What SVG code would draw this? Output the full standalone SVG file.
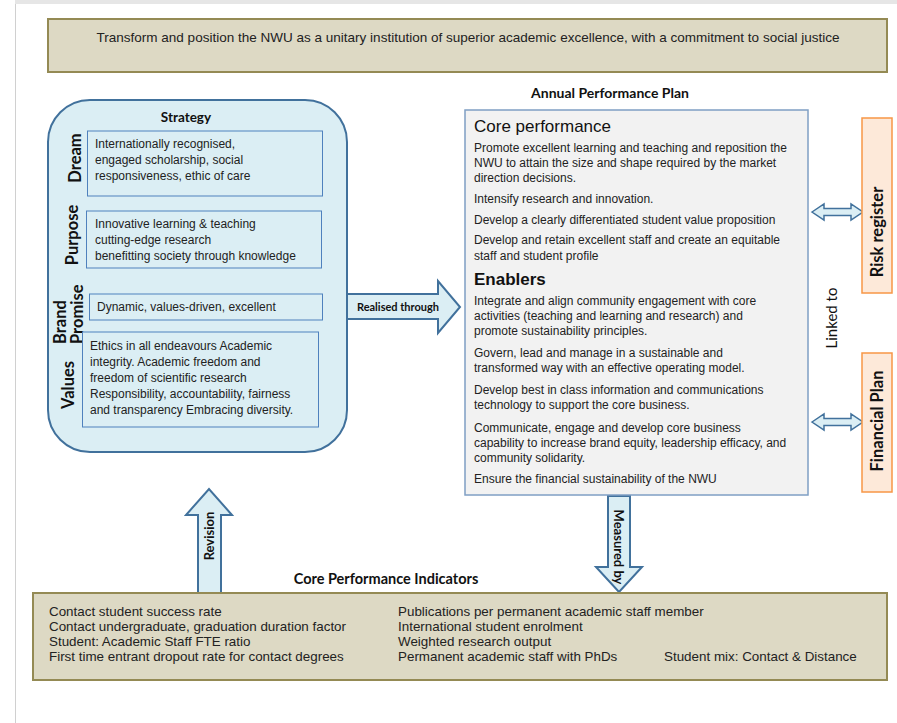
<svg xmlns="http://www.w3.org/2000/svg" width="897" height="723" viewBox="0 0 897 723">
<style>
.body{font-family:"Liberation Sans",Arial,sans-serif;font-size:12px;fill:#222}
.big{font-family:"Liberation Sans",Arial,sans-serif;font-size:17px;fill:#111}
.ind{font-family:"Liberation Sans",Arial,sans-serif;font-size:13.4px;fill:#222}
.hd{font-family:Lato,"Open Sans",sans-serif;font-weight:bold;fill:#111}
.lbl{font-family:Lato,"Open Sans",sans-serif;font-weight:bold;font-size:16.5px;fill:#111}
.tan{fill:#ddd9c4;stroke:#948a54;stroke-width:2}
.inner{fill:#dbeef4;stroke:#4f81bd;stroke-width:1}
.blk{fill:#dbeef4;stroke:#41719c;stroke-width:2;stroke-linejoin:miter}
.side{fill:#fde9d9;stroke:#f79646;stroke-width:1.5}
.dbl{fill:#dbeef4;stroke:#41719c;stroke-width:1.5}
</style>
<rect x="0" y="0" width="897" height="723" fill="#ffffff"/>
<rect x="15" y="0" width="882" height="4" fill="#e6e6e6"/>
<line x1="15.5" y1="4" x2="15.5" y2="723" stroke="#d0d0d0" stroke-width="1"/>

<g id="mission">
<rect class="tan" x="48" y="19" width="839" height="53" stroke-width="1.5"/>
<text class="body" x="468" y="42" style="font-size:13px" text-anchor="middle" textLength="743" lengthAdjust="spacingAndGlyphs">Transform and position the NWU as a unitary institution of superior academic excellence, with a commitment to social justice</text>
</g>

<g id="connectors">
<polygon class="blk" points="347,294 438,294 438,281 460,307 438,333 438,319 347,319"/>
<text class="hd" x="398" y="311" font-size="11" text-anchor="middle">Realised through</text>
<polygon class="blk" points="198,593 198,515 186,515 209,489 232,515 221,515 221,593"/>
<text class="hd" font-size="13" text-anchor="middle" transform="translate(214,536) rotate(-90)">Revision</text>
<polygon class="blk" points="608,496 630,496 630,567 642,567 619,592 596,567 608,567"/>
<text class="hd" font-size="13" text-anchor="middle" transform="translate(614,547) rotate(90)">Measured by</text>
<polygon class="dbl" points="812,212 824,204 824,208.5 851,208.5 851,204 863,212 851,220 851,215.5 824,215.5 824,220"/>
<polygon class="dbl" points="812,422 824,414 824,418.5 851,418.5 851,414 863,422 851,430 851,425.5 824,425.5 824,430"/>
<text x="0" y="0" font-family="Lato, 'Open Sans', sans-serif" font-size="15" fill="#111" text-anchor="middle" transform="translate(837,318) rotate(-90)">Linked to</text>
</g>

<g id="strategy">
<rect x="48" y="100" width="299" height="352" rx="42" ry="42" fill="#dbeef4" stroke="#41719c" stroke-width="2"/>
<text class="hd" x="186" y="122" font-size="13.5" text-anchor="middle">Strategy</text>
<rect class="inner" x="87.5" y="131" width="235" height="65"/>
<text class="body"><tspan x="95" y="148">Internationally recognised,</tspan><tspan x="95" y="164">engaged scholarship, social</tspan><tspan x="95" y="180">responsiveness, ethic of care</tspan></text>
<text class="lbl" text-anchor="middle" transform="translate(81,158) rotate(-90)">Dream</text>
<rect class="inner" x="86.5" y="211" width="235" height="57"/>
<text class="body"><tspan x="95" y="228">Innovative learning &amp; teaching</tspan><tspan x="95" y="244">cutting-edge research</tspan><tspan x="95" y="260">benefitting society through knowledge</tspan></text>
<text class="lbl" text-anchor="middle" transform="translate(78,235) rotate(-90)">Purpose</text>
<rect class="inner" x="89.5" y="294" width="233" height="26"/>
<text class="body" x="97" y="311">Dynamic, values-driven, excellent</text>
<text class="lbl" transform="translate(66,344) rotate(-90)">Brand</text>
<text class="lbl" transform="translate(83,344) rotate(-90)">Promise</text>
<rect class="inner" x="82.5" y="332" width="236" height="95"/>
<text class="body"><tspan x="90" y="350">Ethics in all endeavours Academic</tspan><tspan x="90" y="366">integrity. Academic freedom and</tspan><tspan x="90" y="382">freedom of scientific research</tspan><tspan x="90" y="398">Responsibility, accountability, fairness</tspan><tspan x="90" y="414">and transparency Embracing diversity.</tspan></text>
<text class="lbl" text-anchor="middle" transform="translate(74,385) rotate(-90)">Values</text>
</g>

<g id="app">
<text class="hd" x="610" y="98" font-size="14" text-anchor="middle">Annual Performance Plan</text>
<rect x="465" y="110" width="343" height="385" fill="#f2f2f2" stroke="#7f9fc4" stroke-width="1.5"/>
<text class="big" x="474" y="132">Core performance</text>
<text class="body"><tspan x="474" y="152">Promote excellent learning and teaching and reposition the</tspan><tspan x="474" y="167">NWU to attain the size and shape required by the market</tspan><tspan x="474" y="182">direction decisions.</tspan><tspan x="474" y="203">Intensify research and innovation.</tspan><tspan x="474" y="224">Develop a clearly differentiated student value proposition</tspan><tspan x="474" y="244">Develop and retain excellent staff and create an equitable</tspan><tspan x="474" y="260">staff and student profile</tspan></text>
<text class="big" x="474" y="285" font-weight="bold">Enablers</text>
<text class="body"><tspan x="474" y="305">Integrate and align community engagement with core</tspan><tspan x="474" y="320">activities (teaching and learning and research) and</tspan><tspan x="474" y="335">promote sustainability principles.</tspan><tspan x="474" y="357">Govern, lead and manage in a sustainable and</tspan><tspan x="474" y="372">transformed way with an effective operating model.</tspan><tspan x="474" y="394">Develop best in class information and communications</tspan><tspan x="474" y="409">technology to support the core business.</tspan><tspan x="474" y="432">Communicate, engage and develop core business</tspan><tspan x="474" y="447">capability to increase brand equity, leadership efficacy, and</tspan><tspan x="474" y="462">community solidarity.</tspan><tspan x="474" y="483">Ensure the financial sustainability of the NWU</tspan></text>
</g>

<g id="risk">
<rect class="side" x="862" y="118" width="30" height="175"/>
<text class="hd" font-size="16.5" text-anchor="middle" transform="translate(883,232) rotate(-90)">Risk register</text>
</g>

<g id="financial">
<rect class="side" x="862" y="353" width="30" height="139"/>
<text class="hd" font-size="16.5" text-anchor="middle" transform="translate(883,421) rotate(-90)">Financial Plan</text>
</g>

<g id="kpi">
<text class="hd" x="386" y="584" font-size="14.5" text-anchor="middle">Core Performance Indicators</text>
<rect class="tan" x="33" y="593" width="854" height="87"/>
<text class="ind"><tspan x="49" y="616">Contact student success rate</tspan><tspan x="49" y="631">Contact undergraduate, graduation duration factor</tspan><tspan x="49" y="646">Student: Academic Staff FTE ratio</tspan><tspan x="49" y="661">First time entrant dropout rate for contact degrees</tspan></text>
<text class="ind"><tspan x="398" y="616">Publications per permanent academic staff member</tspan><tspan x="398" y="631">International student enrolment</tspan><tspan x="398" y="646">Weighted research output</tspan><tspan x="398" y="661">Permanent academic staff with PhDs</tspan></text>
<text class="ind" x="664" y="661">Student mix: Contact &amp; Distance</text>
</g>
</svg>
